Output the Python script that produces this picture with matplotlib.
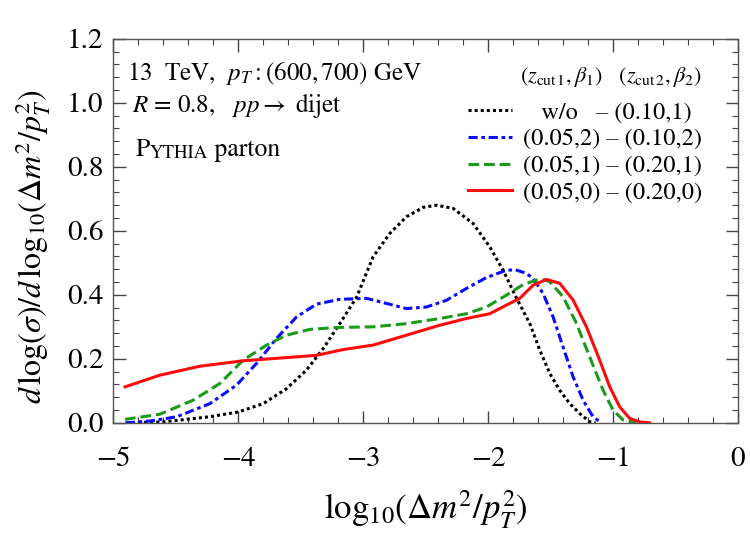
import matplotlib.pyplot as plt
from matplotlib.ticker import MultipleLocator

plt.rcParams['font.family'] = ['STIXGeneral', 'Liberation Serif', 'DejaVu Serif']
plt.rcParams['mathtext.fontset'] = 'stix'

# curves (x = log10(dm^2/pT^2), y = distribution)
x_wo = [-4.9, -4.6, -4.23, -4.0, -3.8, -3.613, -3.453, -3.32, -3.187, -3.053, -2.92,
        -2.786, -2.653, -2.52, -2.413, -2.28, -2.12, -1.987, -1.88, -1.773, -1.666,
        -1.586, -1.506, -1.427, -1.346, -1.266, -1.186, -1.14]
y_wo = [0.0, 0.003, 0.019, 0.034, 0.06, 0.107, 0.165, 0.232, 0.31, 0.392, 0.519,
        0.592, 0.644, 0.673, 0.68, 0.67, 0.623, 0.55, 0.477, 0.39, 0.31,
        0.227, 0.154, 0.102, 0.06, 0.029, 0.003, 0.0]

x_b2 = [-4.9, -4.7, -4.493, -4.227, -4.013, -3.853, -3.693, -3.533, -3.373, -3.187,
        -2.973, -2.813, -2.653, -2.493, -2.333, -2.173, -2.013, -1.853, -1.78, -1.7,
        -1.64, -1.56, -1.48, -1.40, -1.32, -1.24, -1.16, -1.093]
y_b2 = [0.0, 0.006, 0.019, 0.06, 0.118, 0.186, 0.264, 0.331, 0.371, 0.386,
        0.389, 0.373, 0.357, 0.362, 0.383, 0.420, 0.454, 0.477, 0.478, 0.468,
        0.452, 0.404, 0.331, 0.237, 0.144, 0.071, 0.019, 0.0]

x_b1 = [-4.906, -4.627, -4.36, -4.147, -3.96, -3.773, -3.613, -3.427, -3.213, -2.92,
        -2.653, -2.387, -2.173, -2.013, -1.853, -1.72, -1.613, -1.55, -1.507, -1.40,
        -1.293, -1.187, -1.08, -1.0, -0.92, -0.813]
y_b1 = [0.011, 0.027, 0.071, 0.123, 0.196, 0.243, 0.274, 0.292, 0.298, 0.300,
        0.31, 0.326, 0.341, 0.362, 0.399, 0.432, 0.446, 0.447, 0.441, 0.394,
        0.311, 0.206, 0.102, 0.04, 0.009, 0.0]

x_b0 = [-4.906, -4.627, -4.306, -3.96, -3.613, -3.373, -3.16, -2.92, -2.653, -2.387,
        -2.173, -1.987, -1.853, -1.746, -1.64, -1.533, -1.427, -1.32, -1.213, -1.107,
        -1.027, -0.947, -0.867, -0.787, -0.707]
y_b0 = [0.1125, 0.149, 0.177, 0.194, 0.204, 0.211, 0.229, 0.243, 0.274, 0.305,
        0.326, 0.341, 0.368, 0.389, 0.43, 0.448, 0.436, 0.384, 0.30, 0.196,
        0.113, 0.05, 0.014, 0.003, 0.0]

labels = ['   w/o   \u2013 (0.10,1)', '(0.05,2) \u2013 (0.10,2)',
          '(0.05,1) \u2013 (0.20,1)', '(0.05,0) \u2013 (0.20,0)']

fig = plt.figure(figsize=(7.5, 5.38), dpi=100)
ax = fig.add_axes([0.151, 0.214, 0.833, 0.714])

lw = 2.2
ax.plot(x_wo, y_wo, color='black', lw=lw, ls=(0, (1.0, 1.0)), label=labels[0])
ax.plot(x_b2, y_b2, color='#0a0aff', lw=lw, ls=(0, (3.0, 1.2, 1.2, 1.2)), label=labels[1])
ax.plot(x_b1, y_b1, color='#1a9a1a', lw=lw, ls=(0, (3.5, 1.6)), label=labels[2])
ax.plot(x_b0, y_b0, color='#ff0a0a', lw=lw, ls='-', label=labels[3])

ax.set_xlim(-5, 0)
ax.set_ylim(0, 1.2)
ax.xaxis.set_minor_locator(MultipleLocator(0.2))
ax.yaxis.set_minor_locator(MultipleLocator(0.04))
ax.set_yticks([0.0, 0.2, 0.4, 0.6, 0.8, 1.0, 1.2])
ax.set_yticklabels(['0.0', '0.2', '0.4', '0.6', '0.8', '1.0', '1.2'])
ax.set_xticks([-5, -4, -3, -2, -1, 0])
ax.set_xticklabels(['\u22125', '\u22124', '\u22123', '\u22122', '\u22121', '0'])
ax.tick_params(which='both', direction='in', top=True, right=True, colors='#444444',
               labelcolor='black', labelsize=21)
ax.tick_params(which='major', length=9, width=1)
ax.tick_params(which='minor', length=4.5, width=0.8)
ax.tick_params(axis='x', pad=17)
ax.tick_params(axis='y', pad=7)
for s in ax.spines.values():
    s.set_color('#555555')
    s.set_linewidth(1.0)

ax.set_xlabel(r'$\mathrm{log}_{10}(\Delta m^2/p_T^2)$', fontsize=25, labelpad=12)
ax.set_ylabel(r'$d\,\mathrm{log}(\sigma)/d\,\mathrm{log}_{10}(\Delta m^2/p_T^2)$', fontsize=23)
ax.yaxis.set_label_coords(-0.098, 0.4575)

ax.text(0.022, 0.892, r'13  TeV,  $p_T:(600,700)$ GeV', transform=ax.transAxes, fontsize=18,
        va='baseline')
ax.text(0.03, 0.809, r'$R$ = 0.8,   $pp \rightarrow$ dijet', transform=ax.transAxes, fontsize=18,
        va='baseline')
t1 = ax.text(0.035, 0.68, 'P', transform=ax.transAxes, fontsize=18.5, va='bottom')
t2 = ax.annotate('YTHIA', xy=(1, 0), xycoords=t1, fontsize=13.5, va='bottom')
ax.annotate(' parton', xy=(1, 0), xycoords=t2, fontsize=18.5, va='bottom')

leg = ax.legend(loc='upper right', bbox_to_anchor=(0.942, 0.837), frameon=False, fontsize=17.5,
                handlelength=1.8, handletextpad=0.45, labelspacing=0.2,
                borderaxespad=0.0, borderpad=0.0)
ax.text(0.942, 0.900, r'$(z_{\mathrm{cut}\,1},\beta_1)$   $(z_{\mathrm{cut}\,2},\beta_2)$',
        transform=ax.transAxes, fontsize=16, ha='right', va='center')

fig.savefig('out.png', dpi=100)
